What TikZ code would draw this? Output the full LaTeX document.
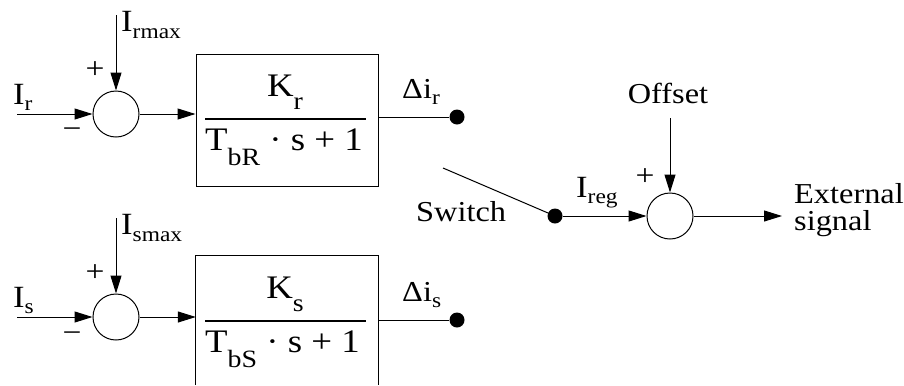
\documentclass[tikz,border=0pt]{standalone}
\usepackage{fontspec}
\setmainfont[FakeStretch=1.12]{Liberation Serif}
\usetikzlibrary{arrows.meta}
\newcommand{\lsub}[2][6]{\raisebox{-#1bp}{\fontsize{21}{21}\selectfont #2}}
\newcommand{\fsub}[2][13]{\raisebox{-#1bp}{\fontsize{25}{25}\selectfont #2}}
\begin{document}
\begin{tikzpicture}[x=1bp,y=-1bp,
  sig/.style={line width=1bp},
  arr/.style={sig,-{Triangle[length=18bp,width=11bp]}},
  sumc/.style={circle,draw,line width=1bp,minimum size=46bp,inner sep=0pt},
  dotn/.style={circle,fill,inner sep=0pt,minimum size=15bp},
  blk/.style={draw,line width=1bp,minimum width=182bp,minimum height=132bp,inner sep=0pt},
  lbl/.style={inner sep=0pt,anchor=base west,font=\fontsize{29}{29}\selectfont},
  ilbl/.style={inner sep=0pt,anchor=base west,font=\fontsize{31}{31}\selectfont},
  sgn/.style={inner sep=0pt,font=\fontsize{30}{30}\selectfont},
  frc/.style={inner sep=0pt,font=\fontsize{33}{33}\selectfont},
  fline/.style={line width=2.2bp}]
\useasboundingbox (0,0) rectangle (904,385);

% ---------- upper chain ----------
\coordinate (ir0) at (17,114);
\coordinate (irm) at (116,15);
\node[sumc] (s1) at (116,114) {};
\node[blk] (b1) at (287,120) {};
\node[dotn] (d1) at (457,117) {};
\draw[arr] (ir0) -- (s1);
\draw[arr] (irm) -- (s1);
\draw[arr] (s1.east) -- (s1.east -| b1.west);
\draw[sig] (b1.east |- d1) -- (d1);
\node[ilbl] (lir) at (13,104) {I\lsub{r}};
\node[ilbl] (lirm) at (121,31) {I\lsub[7]{rmax}};
\node[sgn] (p1) at (95,70) {+};
\node[sgn] (m1) at (72,133) {−};
\node[lbl] (ldr) at (402,98) {Δi\lsub{r}};
\node[frc,anchor=base] (n1) at (285,96) {K\fsub{r}};
\draw[fline] (205,119) -- (366,119);
\node[frc,anchor=base west] (q1) at (205,150) {T\fsub[15]{bR} · s + 1};

% ---------- lower chain ----------
\coordinate (is0) at (17,317);
\coordinate (ism) at (116,218);
\node[sumc] (s2) at (116,317) {};
\node[minimum width=182bp,minimum height=129bp,inner sep=0pt] (b2) at (287,320.5) {};
\node[dotn] (d2) at (457,320) {};
\draw[sig] (b2.south west) -- (b2.north west) -- (b2.north east) -- (b2.south east);
\draw[arr] (is0) -- (s2);
\draw[arr] (ism) -- (s2);
\draw[arr] (s2.east) -- (s2.east -| b2.west);
\draw[sig] (b2.east |- d2) -- (d2);
\node[ilbl] (lis) at (13,307) {I\lsub{s}};
\node[ilbl] (lism) at (121,234) {I\lsub[7]{smax}};
\node[sgn] (p2) at (95,273) {+};
\node[sgn] (m2) at (72,337) {−};
\node[lbl] (lds) at (402,301) {Δi\lsub{s}};
\node[frc,anchor=base] (n2) at (285,298) {K\fsub{s}};
\draw[fline] (205,321) -- (366,321);
\node[frc,anchor=base west] (q2) at (205,352) {T\fsub[15]{bS} · s + 1};

% ---------- switch and output ----------
\coordinate (swa) at (443,168);
\node[dotn] (d3) at (555,216) {};
\node[sumc] (s3) at (670,216) {};
\coordinate (off) at (670,118);
\coordinate (ext) at (782,216);
\draw[sig] (swa) -- (d3);
\draw[arr] (d3) -- (s3);
\draw[arr] (off) -- (s3);
\draw[arr] (s3) -- (ext);
\node[lbl] (lsw) at (416,221) {Switch};
\node[ilbl] (lreg) at (576,197) {I\lsub{reg}};
\node[lbl,anchor=base] (loff) at (668,103) {Offset};
\node[sgn] (p3) at (645,177) {+};
\node[lbl] (lext) at (794,203) {External};
\node[lbl] (lsig) at (794,230) {signal};
\end{tikzpicture}
\end{document}
